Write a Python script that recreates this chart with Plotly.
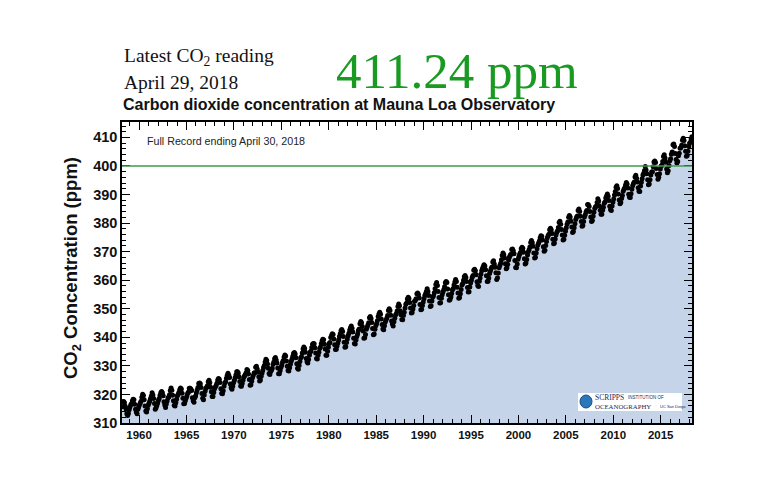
import plotly.graph_objects as go

# Monthly mean CO2 at Mauna Loa (ppm), March 1958 - April 2018
start_year = 1958
start_month = 3
co2_ppm = [
    315.71, 317.45, 317.50, 317.10, 315.86, 314.93, 313.20, 312.66, 313.33, 314.67,  # 1958
    315.62, 316.38, 316.71, 317.72, 318.29, 318.15, 316.54, 314.80, 313.84, 313.26, 314.80, 315.58,  # 1959
    316.43, 316.97, 317.58, 319.02, 320.03, 319.59, 318.18, 315.91, 314.16, 313.83, 315.00, 316.19,
    316.93, 317.70, 318.54, 319.48, 320.58, 319.77, 318.57, 316.79, 314.80, 315.38, 316.10, 317.01,
    317.94, 318.56, 319.68, 320.63, 321.01, 320.55, 319.58, 317.40, 316.26, 315.42, 316.69, 317.69,
    318.74, 319.08, 319.86, 321.39, 322.25, 321.47, 319.74, 317.77, 316.21, 315.99, 317.12, 318.31,
    319.57, 320.07, 320.73, 321.77, 322.25, 321.89, 320.44, 318.70, 316.70, 316.79, 317.79, 318.71,
    319.44, 320.44, 320.89, 322.13, 322.16, 321.87, 321.39, 318.81, 317.81, 317.30, 318.87, 319.42,
    320.62, 321.59, 322.39, 323.87, 324.01, 323.75, 322.39, 320.37, 318.64, 318.10, 319.79, 321.08,
    322.07, 322.50, 323.04, 324.42, 325.00, 324.09, 322.55, 320.92, 319.31, 319.31, 320.72, 321.96,
    322.57, 323.15, 323.89, 325.02, 325.57, 325.36, 324.14, 322.03, 320.41, 320.25, 321.31, 322.84,
    324.00, 324.42, 325.64, 326.66, 327.38, 326.70, 325.89, 323.67, 322.38, 321.78, 322.85, 324.11,
    324.89, 325.82, 326.77, 327.97, 327.91, 327.50, 326.18, 324.53, 322.93, 322.90, 323.85, 324.96,
    326.01, 326.51, 327.01, 327.62, 328.76, 328.40, 327.20, 325.27, 323.20, 323.40, 324.63, 325.85,
    326.60, 327.47, 327.58, 329.56, 329.90, 328.92, 327.88, 326.16, 324.68, 325.04, 326.34, 327.39,
    328.37, 329.40, 330.14, 331.33, 332.31, 331.90, 330.70, 329.15, 327.35, 327.02, 327.99, 328.48,
    329.18, 330.55, 331.32, 332.48, 332.92, 332.08, 331.01, 329.23, 327.27, 327.21, 328.29, 329.41,
    330.23, 331.25, 331.87, 333.14, 333.80, 333.43, 331.73, 329.90, 328.40, 328.17, 329.32, 330.59,
    331.58, 332.39, 333.33, 334.41, 334.71, 334.17, 332.89, 330.77, 329.14, 328.78, 330.14, 331.52,
    332.75, 333.24, 334.53, 335.90, 336.57, 336.10, 334.76, 332.59, 331.42, 330.98, 332.24, 333.68,
    334.80, 335.22, 336.47, 337.59, 337.84, 337.72, 336.37, 334.51, 332.60, 332.38, 333.75, 334.78,
    336.05, 336.59, 337.79, 338.71, 339.30, 339.12, 337.56, 335.92, 333.75, 333.70, 335.12, 336.56,
    337.84, 338.19, 339.91, 340.60, 341.29, 341.00, 339.39, 337.43, 335.72, 335.84, 336.93, 338.04,
    339.06, 340.30, 341.21, 342.33, 342.74, 342.08, 340.32, 338.26, 336.52, 336.68, 338.19, 339.44,
    340.57, 341.44, 342.53, 343.39, 343.96, 343.18, 341.88, 339.65, 337.81, 337.69, 339.09, 340.32,
    341.20, 342.35, 342.93, 344.77, 345.58, 345.14, 343.81, 342.21, 339.69, 339.82, 340.98, 342.82,
    343.52, 344.33, 345.11, 346.88, 347.25, 346.62, 345.22, 343.11, 340.90, 341.18, 342.80, 344.04,
    344.79, 345.82, 347.25, 348.17, 348.74, 348.07, 346.38, 344.51, 342.92, 342.62, 344.06, 345.38,
    346.11, 346.78, 347.68, 349.37, 350.03, 349.37, 347.76, 345.73, 344.68, 343.99, 345.48, 346.72,
    347.84, 348.29, 349.23, 350.80, 351.66, 351.07, 349.33, 347.92, 346.27, 346.18, 347.64, 348.78,
    350.25, 351.54, 352.05, 353.41, 354.04, 353.62, 352.22, 350.27, 348.55, 348.72, 349.91, 351.18,
    352.60, 352.92, 353.53, 355.26, 355.52, 354.97, 353.75, 351.52, 349.64, 349.83, 351.14, 352.37,
    353.50, 354.55, 355.23, 356.04, 357.00, 356.07, 354.67, 352.76, 350.82, 351.04, 352.69, 354.07,
    354.59, 355.63, 357.03, 358.48, 359.22, 358.12, 356.06, 353.92, 352.05, 352.11, 353.64, 354.89,
    355.88, 356.63, 357.72, 359.07, 359.58, 359.17, 356.94, 354.92, 352.94, 353.23, 354.09, 355.33,
    356.63, 357.10, 358.32, 359.41, 360.23, 359.55, 357.53, 355.48, 353.67, 353.95, 355.30, 356.78,
    358.34, 358.89, 359.95, 361.25, 361.67, 360.94, 359.55, 357.49, 355.84, 356.00, 357.59, 359.05,
    359.98, 361.03, 361.66, 363.48, 363.82, 363.30, 361.94, 359.50, 358.11, 357.80, 359.61, 360.74,
    362.09, 363.29, 364.06, 364.76, 365.45, 365.01, 363.70, 361.54, 359.51, 359.65, 360.80, 362.38,
    363.23, 364.06, 364.61, 366.40, 366.84, 365.68, 364.52, 362.57, 360.24, 360.83, 362.49, 364.34,
    365.18, 365.98, 367.13, 368.61, 369.49, 368.95, 367.74, 365.79, 364.01, 364.35, 365.52, 367.08,
    368.04, 368.70, 369.08, 370.72, 370.94, 370.33, 369.28, 366.89, 364.47, 364.32, 365.71, 367.32,
    368.18, 369.07, 369.68, 371.01, 371.54, 371.15, 369.76, 367.51, 365.68, 366.00, 367.29, 368.81,
    369.96, 370.64, 371.65, 373.23, 373.89, 373.19, 371.86, 369.56, 367.77, 368.04, 369.49, 371.06,
    372.37, 373.03, 373.74, 374.91, 375.54, 375.41, 374.11, 371.76, 370.17, 370.52, 372.15, 373.54,
    374.89, 375.55, 376.13, 377.63, 378.22, 377.68, 376.40, 374.32, 372.74, 373.00, 374.44, 375.86,
    376.76, 377.34, 378.44, 380.23, 380.62, 379.61, 377.74, 375.81, 374.11, 374.33, 375.70, 377.11,
    378.36, 379.59, 380.40, 382.03, 382.64, 382.12, 380.61, 378.64, 376.71, 377.02, 378.36, 379.74,
    381.28, 382.04, 382.48, 384.39, 384.94, 384.03, 382.40, 380.54, 378.90, 379.12, 380.57, 382.16,
    382.89, 383.89, 384.45, 386.47, 386.40, 385.78, 384.08, 382.12, 380.60, 380.87, 382.42, 383.77,
    385.09, 385.70, 385.90, 387.17, 388.50, 387.76, 386.05, 384.54, 383.06, 383.14, 384.46, 385.59,
    386.92, 387.41, 388.77, 389.46, 390.19, 389.42, 387.87, 385.92, 384.79, 384.38, 385.99, 387.26,
    388.45, 389.82, 391.07, 392.53, 393.04, 392.13, 390.17, 388.05, 386.80, 387.18, 388.59, 389.68,
    391.18, 391.81, 392.37, 393.33, 394.21, 393.71, 392.27, 390.13, 389.08, 389.00, 390.28, 391.86,
    393.12, 393.86, 394.40, 396.18, 396.74, 395.71, 394.36, 392.39, 391.11, 391.05, 392.98, 394.34,
    395.55, 396.80, 397.43, 398.41, 399.78, 398.60, 397.32, 395.20, 393.45, 393.70, 395.16, 396.84,
    397.85, 398.01, 399.77, 401.38, 401.78, 401.25, 399.10, 397.03, 395.38, 396.03, 397.28, 398.91,
    399.98, 400.28, 401.54, 403.28, 403.96, 402.80, 401.31, 398.93, 397.63, 398.29, 400.16, 401.85,
    402.56, 404.12, 404.87, 407.45, 407.72, 406.83, 404.41, 402.27, 401.05, 401.59, 403.55, 404.45,
    406.17, 406.46, 407.22, 409.04, 409.69, 408.88, 407.12, 405.13, 403.37, 403.63, 405.12, 406.81,
    407.96, 408.32, 409.41, 410.24,  # 2018
]

x_ticks = [1960, 1965, 1970, 1975, 1980, 1985, 1990, 1995, 2000, 2005, 2010, 2015]
y_ticks = [310, 320, 330, 340, 350, 360, 370, 380, 390, 400, 410]
reference_level = 400
latest_reading = "411.24 ppm"
latest_date = "April 29, 2018"

# decimal-year positions for each monthly value
years = []
for i in range(len(co2_ppm)):
    mi = start_month - 1 + i
    years.append(start_year + mi // 12 + (mi % 12 + 0.5) / 12)

# page body has an 8px margin: figure sits at (8, 8) in the window
OFF = 8
W, H = 768 - OFF, 497 - OFF
L, R, T, B = 122, 692, 122, 423   # plot box in window pixels
def px(x):
    return (x - L) / (R - L)
def py(y):
    return (B - y) / (B - T)

fig = go.Figure()
fig.add_trace(go.Scatter(x=years, y=co2_ppm, mode="lines", line=dict(width=0, color="rgba(0,0,0,0)"),
                         fill="tozeroy", fillcolor="#c6d4ea", hoverinfo="skip", showlegend=False))
fig.add_trace(go.Scatter(x=years, y=co2_ppm, mode="markers",
                         marker=dict(color="black", size=5, line=dict(width=0)), showlegend=False))

fig.add_shape(type="line", xref="paper", yref="y", x0=0, x1=1, y0=reference_level, y1=reference_level,
              line=dict(color="#3f9a4c", width=1.3), layer="above")

serif = "Liberation Serif, Times New Roman, serif"
sans = "Liberation Sans, Arial, Helvetica, sans-serif"
ann = []
ann.append(dict(text="Latest CO<sub>2</sub> reading", x=px(122), y=py(57), xanchor="left", yanchor="middle",
                font=dict(family=serif, size=19.5, color="#111")))
ann.append(dict(text=latest_date, x=px(122), y=py(82), xanchor="left", yanchor="middle",
                font=dict(family=serif, size=19.5, color="#111")))
ann.append(dict(text=latest_reading, x=px(457), y=py(71), xanchor="center", yanchor="middle",
                font=dict(family=serif, size=51, color="#199a22")))
ann.append(dict(text="Carbon dioxide concentration at Mauna Loa Observatory", x=px(121), y=py(104),
                xanchor="left", yanchor="middle", font=dict(family=sans, size=16, color="#111", weight="bold")))
ann.append(dict(text="Full Record ending April 30, 2018", x=px(145), y=py(141), xanchor="left", yanchor="middle",
                font=dict(family=sans, size=10.7, color="#222")))
ann.append(dict(text="CO<sub>2</sub> Concentration (ppm)", x=px(72), y=py(268), xanchor="center", yanchor="middle",
                textangle=-90, font=dict(family=sans, size=18.5, color="#111", weight="bold")))
# Scripps logo (drawn)
ann.append(dict(text="SCRIPPS", x=px(593), y=py(397), xanchor="left",
                yanchor="middle", font=dict(family=serif, size=7.5, color="#1a2a5a")))
ann.append(dict(text="INSTITUTION OF", x=px(626), y=py(397), xanchor="left", yanchor="middle",
                font=dict(family=sans, size=4.5, color="#1a2a5a")))
ann.append(dict(text="OCEANOGRAPHY", x=px(593), y=py(406), xanchor="left",
                yanchor="middle", font=dict(family=serif, size=6.8, color="#1a2a5a")))
ann.append(dict(text="UC San Diego", x=px(658), y=py(406), xanchor="left", yanchor="middle",
                font=dict(family=sans, size=4, color="#1a2a5a")))
for a in ann:
    a.update(xref="paper", yref="paper", showarrow=False)
fig.update_layout(annotations=ann)

fig.add_shape(type="rect", xref="paper", yref="paper", x0=px(578), x1=px(682), y0=py(411), y1=py(393),
              fillcolor="white", line=dict(width=0), layer="above")
fig.add_shape(type="circle", xref="paper", yref="paper", x0=px(580), x1=px(592), y0=py(408), y1=py(395),
              fillcolor="#2a78b8", line=dict(color="#1a4a8a", width=1), layer="above")

axis_common = dict(showline=True, linecolor="black", linewidth=1.5, mirror="allticks", ticks="inside",
                   tickcolor="black", showgrid=False, zeroline=False)
fig.update_xaxes(range=[1958.2, 2018.3], tickmode="array", tickvals=x_ticks, ticklen=8, tickwidth=1.2,
                 tickfont=dict(family=sans, size=11.5, color="#111", weight="bold"),
                 minor=dict(dtick=1, tick0=1960, ticks="inside", ticklen=4, tickcolor="black", tickwidth=1),
                 **axis_common)
fig.update_yaxes(range=[310, 415.4], tickmode="array", tickvals=y_ticks, ticklen=8, tickwidth=1.2,
                 tickfont=dict(family=sans, size=14.5, color="#111", weight="bold"),
                 minor=dict(dtick=2, tick0=310, ticks="inside", ticklen=4, tickcolor="black", tickwidth=1),
                 **axis_common)
fig.update_layout(width=W, height=H,
                  margin=dict(l=L - OFF, r=W - (R - OFF), t=T - OFF, b=H - (B - OFF), autoexpand=False),
                  paper_bgcolor="white", plot_bgcolor="white", showlegend=False)
fig.write_html("out.html")
